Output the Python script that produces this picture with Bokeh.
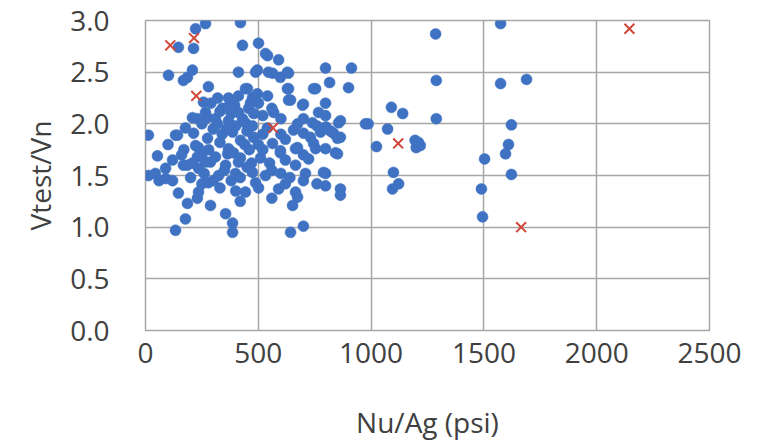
from bokeh.plotting import figure
from bokeh.models import Range1d, FixedTicker, NumeralTickFormatter
from bokeh.embed import file_html
from bokeh.resources import INLINE

# Blue series: Nu/Ag (psi) and Vtest/Vn
blue_x = [
    222, 266, 421, 146, 213, 430, 501, 541, 590, 532,
    102, 186, 208, 412, 488, 545, 629, 496, 563, 598, 634, 798, 913, 816, 168,
    1286, 1289, 1574, 1574, 1689,
    279, 257, 443, 452, 368, 412, 474, 496, 341, 412, 457, 266, 230, 310, 368, 443,
    364, 465, 541, 629, 643, 696, 745, 754, 900, 634, 501, 700, 798, 568, 767, 856,
    975, 674, 740, 798, 864, 1289, 1090, 1140, 987, 208, 275, 634, 290, 320, 395,
    520, 600, 560, 430, 480, 700, 250, 380, 330,
    177, 474, 13, 133, 213, 235, 319, 386, 421, 479, 656, 700, 776, 833, 745, 674,
    798, 563, 53, 120, 186, 288, 364, 421, 510, 598, 665, 723, 851, 142, 222, 275,
    266, 208, 89, 355, 412, 368, 731, 851, 754, 665, 598, 776, 800, 820, 760, 842,
    864, 1073, 1024, 1195, 1210, 1200, 1218, 1503, 1622, 1609, 1596,
    300, 340, 360, 400, 450, 520, 540, 600, 620, 440, 500, 330, 280, 390, 460, 520,
    250, 310, 170, 100, 160, 230, 470, 550, 620, 700,
    13, 44, 168, 146, 235, 279, 235, 443, 488, 474, 399, 324, 709, 789, 798, 864,
    864, 590, 665, 501, 532, 798, 1099, 1122, 1095, 1489, 1622, 60, 90, 120, 200,
    260, 300, 350, 380, 420, 450, 560, 600, 640, 700, 760, 330, 400, 620, 250,
    186, 288, 177, 133, 355, 386, 386, 643, 700, 652, 674, 1494, 420, 560, 230,
]
blue_y = [
    2.92, 2.97, 2.98, 2.74, 2.73, 2.76, 2.78, 2.66, 2.62, 2.68,
    2.47, 2.45, 2.52, 2.50, 2.50, 2.50, 2.50, 2.52, 2.49, 2.45, 2.49, 2.54, 2.54, 2.40, 2.42,
    2.87, 2.42, 2.97, 2.39, 2.43,
    2.36, 2.21, 2.34, 2.34, 2.25, 2.27, 2.25, 2.29, 2.15, 2.11, 2.15, 2.11, 2.05, 2.05, 2.03, 2.01,
    2.16, 2.20, 2.27, 2.34, 2.23, 2.18, 2.34, 2.34, 2.35, 2.23, 2.20, 2.19, 2.20, 2.11, 2.11, 2.01,
    2.00, 2.00, 2.01, 2.08, 2.03, 2.05, 2.16, 2.10, 2.00, 2.06, 2.06, 2.34, 2.20, 2.25, 2.18,
    2.08, 2.05, 2.15, 2.05, 2.10, 2.05, 2.00, 2.10, 2.12,
    1.96, 1.98, 1.89, 1.89, 1.91, 1.77, 2.00, 1.92, 1.84, 1.87, 1.94, 1.91, 1.92, 1.91, 1.81, 1.77,
    1.76, 1.81, 1.69, 1.65, 1.60, 1.63, 1.71, 1.67, 1.67, 1.72, 1.60, 1.66, 1.71, 1.89, 1.79, 1.86,
    1.63, 1.62, 1.57, 1.60, 1.63, 1.76, 1.87, 1.86, 1.76, 1.76, 1.74, 1.95, 1.97, 1.93, 1.98, 1.72,
    1.87, 1.95, 1.78, 1.84, 1.82, 1.77, 1.79, 1.66, 1.99, 1.80, 1.71,
    1.95, 1.90, 1.95, 1.98, 1.93, 1.90, 1.96, 1.90, 1.85, 1.80, 1.80, 1.82, 1.75, 1.72, 1.75, 1.75,
    1.70, 1.68, 1.75, 1.80, 1.70, 1.68, 1.62, 1.62, 1.65, 1.70,
    1.50, 1.52, 1.60, 1.33, 1.57, 1.43, 1.34, 1.34, 1.43, 1.53, 1.52, 1.50, 1.52, 1.53, 1.40, 1.37,
    1.31, 1.37, 1.34, 1.38, 1.50, 1.52, 1.53, 1.42, 1.37, 1.37, 1.51, 1.45, 1.47, 1.45, 1.48,
    1.52, 1.45, 1.55, 1.45, 1.48, 1.58, 1.55, 1.52, 1.48, 1.45, 1.42, 1.38, 1.35, 1.42, 1.42,
    1.23, 1.21, 1.08, 0.97, 1.13, 1.04, 0.95, 0.95, 1.01, 1.21, 1.29, 1.10, 1.25, 1.28, 1.28,
]

# Red series (x markers)
red_x = [110, 215, 225, 565, 1120, 1665, 2145]
red_y = [2.76, 2.83, 2.27, 1.96, 1.81, 1.00, 2.92]

x_ticks = [0, 500, 1000, 1500, 2000, 2500]
y_ticks = [0.0, 0.5, 1.0, 1.5, 2.0, 2.5, 3.0]

FONT = "Open Sans"
TXT = "#404040"
GRID = "#a6a6a6"

p = figure(width=750, height=444, output_backend="svg", toolbar_location=None,
           x_range=Range1d(0, 2500), y_range=Range1d(0, 3.0),
           min_border_left=145, min_border_right=41, min_border_top=20, min_border_bottom=114)

p.background_fill_color = "white"
p.border_fill_color = "white"
p.outline_line_color = GRID
p.outline_line_width = 1.5

for ax in (p.xaxis[0], p.yaxis[0]):
    ax.axis_line_color = None
    ax.major_tick_line_color = None
    ax.minor_tick_line_color = None
    ax.major_label_text_font = FONT
    ax.major_label_text_font_size = "28px"
    ax.major_label_text_color = TXT
    ax.axis_label_text_font = FONT
    ax.axis_label_text_font_size = "28px"
    ax.axis_label_text_color = TXT
    ax.axis_label_text_font_style = "normal"

p.xaxis.ticker = FixedTicker(ticks=x_ticks)
p.yaxis.ticker = FixedTicker(ticks=y_ticks)
p.xaxis.formatter = NumeralTickFormatter(format="0")
p.yaxis.formatter = NumeralTickFormatter(format="0.0")
p.xaxis.axis_label = "Nu/Ag (psi)"
p.yaxis.axis_label = "Vtest/Vn"
p.xaxis.major_label_standoff = 6
p.yaxis.major_label_standoff = 30
p.xaxis.axis_label_standoff = 37
p.yaxis.axis_label_standoff = 8

p.xgrid.ticker = FixedTicker(ticks=x_ticks)
p.ygrid.ticker = FixedTicker(ticks=y_ticks)
p.grid.grid_line_color = GRID
p.grid.grid_line_width = 1.5

p.scatter(blue_x, blue_y, marker="circle", size=11, fill_color="#3f72c2",
          line_color="#3f72c2", line_width=0.5)
p.scatter(red_x, red_y, marker="x", size=14, line_color="#d2463a", line_width=2)

open("out.html", "w").write(file_html(p, INLINE))
